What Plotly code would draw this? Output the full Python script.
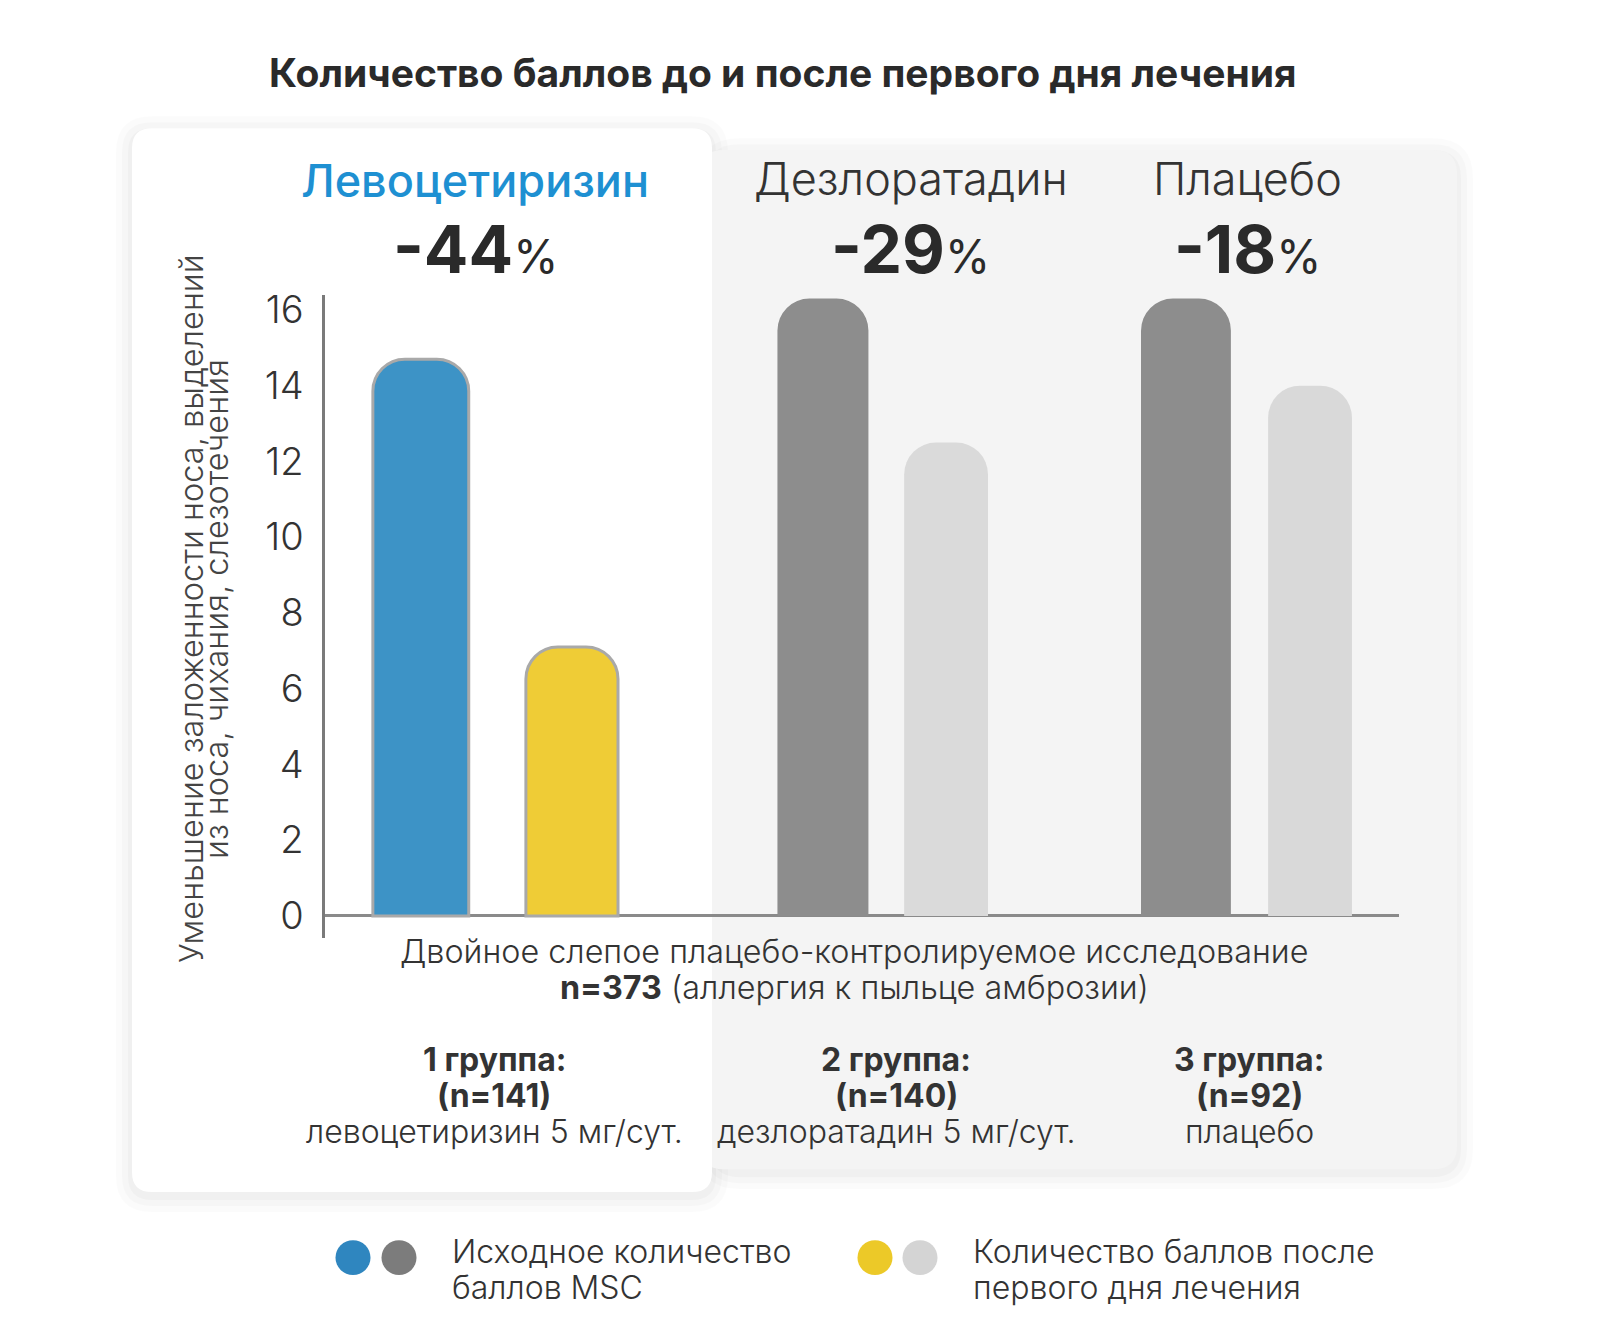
import plotly.graph_objects as go

W, H = 1600, 1344
OFF_X, OFF_Y = 8, 13  # page margin of the html page

# data
groups = ["Левоцетиризин", "Дезлоратадин", "Плацебо"]
baseline = [14.7, 16.3, 16.3]
after_day1 = [7.1, 12.5, 14.0]
change_pct = ["-44", "-29", "-18"]
group_notes = [
    ["1 группа:", "(n=141)", "левоцетиризин 5 мг/сут."],
    ["2 группа:", "(n=140)", "дезлоратадин 5 мг/сут."],
    ["3 группа:", "(n=92)", "плацебо"],
]
y_ticks = [0, 2, 4, 6, 8, 10, 12, 14, 16]
legend_labels = [["Исходное количество", "баллов MSC"],
                 ["Количество баллов после", "первого дня лечения"]]

FONT = "Inter, 'Open Sans', sans-serif"
DARK = "#2a2a2a"
TXT = "#333333"


def px(x):
    return (x - OFF_X) / W


def py(y):
    return 1 - (y - OFF_Y) / H


def rounded_rect(x0, y0, x1, y1, r):
    rx, ry = r / W, r / H
    a, b, c, d = px(x0), py(y1), px(x1), py(y0)
    return (f"M{a+rx},{b} L{c-rx},{b} Q{c},{b} {c},{b+ry} L{c},{d-ry} Q{c},{d} {c-rx},{d} "
            f"L{a+rx},{d} Q{a},{d} {a},{d-ry} L{a},{b+ry} Q{a},{b} {a+rx},{b} Z")


# x axis: category 0 centred at 500.7px, 376px per category
X0, X1, CAT0, STEP = 325, 1399, 500.7, 376.0

fig = go.Figure()

fig.add_trace(go.Bar(
    x=groups, y=baseline, name="Исходное количество баллов MSC",
    offset=[-0.340, -0.264, -0.297], width=[0.255, 0.242, 0.239],
    marker=dict(color=["#3d93c6", "#8d8d8d", "#8d8d8d"], cornerradius=32,
                line=dict(color=["#a9a9a9", "rgba(0,0,0,0)", "rgba(0,0,0,0)"], width=3)),
))
fig.add_trace(go.Bar(
    x=groups, y=after_day1, name="Количество баллов после первого дня лечения",
    offset=[0.067, 0.073, 0.041], width=[0.245, 0.223, 0.223],
    marker=dict(color=["#efcc36", "#dadada", "#d9d9d9"], cornerradius=32,
                line=dict(color=["#a9a9a9", "rgba(0,0,0,0)", "rgba(0,0,0,0)"], width=3)),
))

shapes = []
# soft shadows
for i, op in enumerate([0.025, 0.02, 0.015]):
    g = 4 + i * 6
    shapes.append(dict(type="path", xref="paper", yref="paper", layer="below",
                       path=rounded_rect(715 - g, 147 - g + 4, 1457 + g, 1173 + g + 4, 24 + g),
                       fillcolor=f"rgba(0,0,0,{op})", line=dict(width=0)))
    shapes.append(dict(type="path", xref="paper", yref="paper", layer="below",
                       path=rounded_rect(132 - g, 125 - g + 4, 712 + g, 1196 + g + 4, 20 + g),
                       fillcolor=f"rgba(0,0,0,{op})", line=dict(width=0)))
shapes.append(dict(type="path", xref="paper", yref="paper", layer="below",
                   path=rounded_rect(700, 147, 1457, 1173, 24),
                   fillcolor="#f4f4f4", line=dict(width=0)))
shapes.append(dict(type="path", xref="paper", yref="paper", layer="below",
                   path=rounded_rect(132, 125, 712, 1196, 20),
                   fillcolor="#ffffff", line=dict(width=0)))

# legend dots
for cx, col in [(353, "#2f86bf"), (399, "#7c7c7c"), (875, "#ecc928"), (920, "#d4d4d4")]:
    r = 17.5
    shapes.append(dict(type="circle", xref="paper", yref="paper",
                       x0=px(cx - r), x1=px(cx + r), y0=py(1262 + r), y1=py(1262 - r),
                       fillcolor=col, line=dict(width=0)))

ann = []
ann.append(dict(text="<b>Количество баллов до и после первого дня лечения</b>",
                x=px(782), y=py(69), font=dict(size=39, color=DARK)))

head_x = [475, 911, 1247]
head_y = [178, 176, 176]
for i, name in enumerate(groups):
    if i == 0:
        f = dict(size=45, color="#1e90d2", weight=500)
    else:
        f = dict(size=45, color=TXT, weight=300)
    ann.append(dict(text=name, x=px(head_x[i]), y=py(head_y[i]), font=f))
    ann.append(dict(text=f"<b>{change_pct[i]}</b><span style='font-size:46px'>%</span>",
                    x=px(head_x[i]), y=py(247), font=dict(size=66, color=DARK)))

ann.append(dict(text="Уменьшение заложенности носа, выделений", textangle=-90,
                x=px(191), y=py(609), font=dict(size=32.5, color="#444444", weight=300)))
ann.append(dict(text="из носа, чихания, слезотечения", textangle=-90,
                x=px(216), y=py(609), font=dict(size=32.5, color="#444444", weight=300)))

ann.append(dict(text="Двойное слепое плацебо-контролируемое исследование",
                x=px(854), y=py(954), font=dict(size=32.3, color=TXT, weight=300)))
ann.append(dict(text="<b>n=373</b> (аллергия к пыльце амброзии)",
                x=px(854), y=py(990), font=dict(size=32.3, color=TXT, weight=300)))

note_x = [494, 896, 1249]
note_y = [1063, 1099, 1135]
for i, lines in enumerate(group_notes):
    for j, line in enumerate(lines):
        t = f"<b>{line}</b>" if j < 2 else line
        ann.append(dict(text=t, x=px(note_x[i]), y=py(note_y[j]),
                        font=dict(size=32, color=TXT, weight=300)))

leg_x = [450, 971]
for i, lines in enumerate(legend_labels):
    for j, line in enumerate(lines):
        ann.append(dict(text=line, xanchor="left", x=px(leg_x[i]), y=py(1256 + 36 * j),
                        font=dict(size=32, color=TXT, weight=300)))

for a in ann:
    a.setdefault("xanchor", "center")
    a.setdefault("yanchor", "middle")
    a.update(xref="paper", yref="paper", showarrow=False)

fig.update_layout(
    width=W, height=H, margin=dict(l=0, r=0, t=0, b=0),
    paper_bgcolor="white", plot_bgcolor="rgba(0,0,0,0)",
    font=dict(family=FONT, color=DARK),
    barmode="group",
    showlegend=False, shapes=shapes, annotations=ann,
    xaxis=dict(domain=[px(X0), px(X1)], range=[(X0 - CAT0) / STEP, (X1 - CAT0) / STEP],
               showticklabels=False, showgrid=False, zeroline=False, showline=False),
    yaxis=dict(domain=[py(940), py(293)], range=[-0.577, 16.39],
               tickvals=y_ticks, showgrid=False, ticks="",
               tickfont=dict(size=38, color=TXT, weight=300), ticklabelstandoff=11,
               showline=True, linecolor="#7a7a7a", linewidth=2.5,
               zeroline=True, zerolinecolor="#8a8a8a", zerolinewidth=2.5),
)

fig.write_html("out.html")
